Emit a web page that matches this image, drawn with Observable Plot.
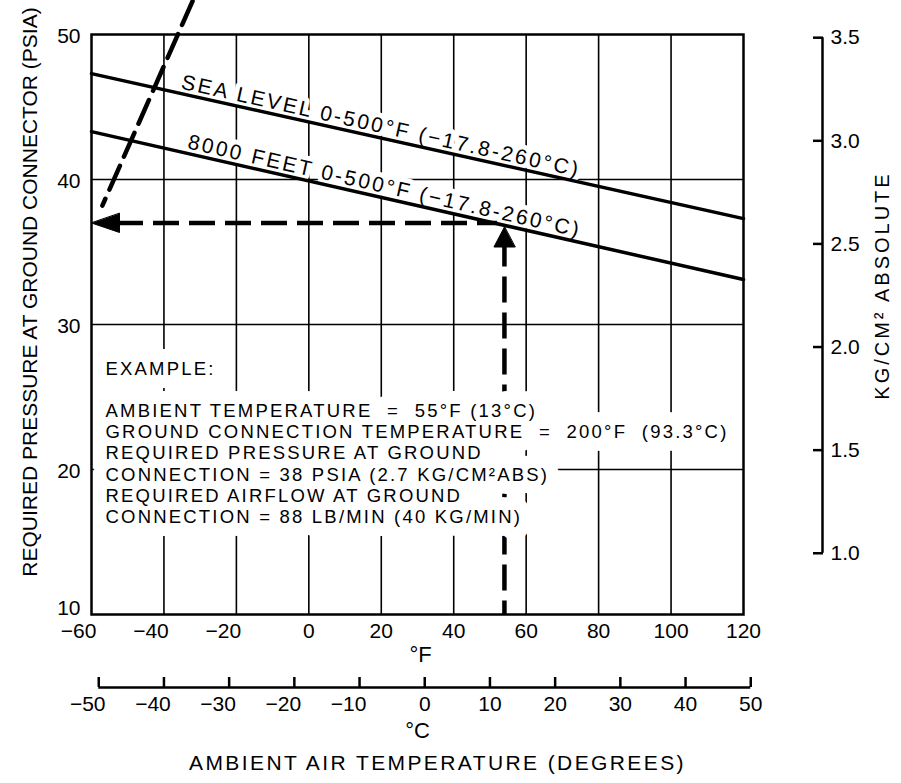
<!DOCTYPE html>
<html>
<head>
<meta charset="utf-8">
<script src="https://cdn.jsdelivr.net/npm/d3@7"></script>
<script src="https://cdn.jsdelivr.net/npm/@observablehq/plot@0.6"></script>
<style>
  html, body { margin: 0; padding: 0; background: #fff; }
  #chart svg { display: block; }
</style>
</head>
<body>
<div id="chart"></div>
<script>
// ---------- data ----------
const fTicks = [-60, -40, -20, 0, 20, 40, 60, 80, 100, 120];
const cTicks = [-50, -40, -30, -20, -10, 0, 10, 20, 30, 40, 50];
const psiTicks = [10, 20, 30, 40, 50];
const psiGrid = [20, 30, 40];
const kgTicks = [1.0, 1.5, 2.0, 2.5, 3.0, 3.5];

const seriesNames = ["SEA LEVEL", "8000 FEET"];
const seriesLabels = ["SEA LEVEL 0-500°F (\u221217.8-260°C)", "8000 FEET 0-500°F (\u221217.8-260°C)"];
const lineTemps = [-60, 120];
const seaLevelPsi = [47.3, 37.3];
const feet8000Psi = [43.3, 33.1];
const labelTemps = [19.5, 20.5];

const exampleTempF = 54;
const examplePsi = 37.0;
const diagTemps = [-32.1, -57.0];
const diagPsi = [52.3, 38.2];

const exampleLines = [
  "EXAMPLE:",
  "",
  "AMBIENT TEMPERATURE  =  55°F (13°C)",
  "GROUND CONNECTION TEMPERATURE  =  200°F  (93.3°C)",
  "REQUIRED PRESSURE AT GROUND",
  "CONNECTION = 38 PSIA (2.7 KG/CM²ABS)",
  "REQUIRED AIRFLOW AT GROUND",
  "CONNECTION = 88 LB/MIN (40 KG/MIN)"
];

const leftTitle = "REQUIRED PRESSURE AT GROUND CONNECTOR (PSIA)";
const rightTitle = "KG/CM² ABSOLUTE";
const fUnit = "°F";
const cUnit = "°C";
const xTitle = "AMBIENT AIR TEMPERATURE (DEGREES)";

// ---------- layout ----------
const W = 901, H = 783, ML = 91, MR = 158, MT = 34, MB = 169;
const plotW = W - ML - MR, plotH = H - MT - MB;
const pxPerF = plotW / (fTicks[fTicks.length - 1] - fTicks[0]);
const pxPerPsi = plotH / (psiTicks[psiTicks.length - 1] - psiTicks[0]);
const centerX = (ML + W - MR) / 2, centerY = (MT + H - MB) / 2;
const rightAxisX = 822, cAxisY = 687;
const FONT = "Liberation Sans, Arial, Helvetica, sans-serif";

const K = 14.223; // psi per kg/cm²
const cToF = c => c * 1.8 + 32;
const fmt = d => d < 0 ? "\u2212" + (-d) : String(d);

const psiSeries = [seaLevelPsi, feet8000Psi];
const lineData = seriesNames.flatMap((name, i) =>
  lineTemps.map((t, j) => ({name, t, p: psiSeries[i][j]})));
const labelData = seriesNames.map((name, i) => {
  const ps = psiSeries[i], t = labelTemps[i];
  const p = ps[0] + (ps[1] - ps[0]) * (t - lineTemps[0]) / (lineTemps[1] - lineTemps[0]);
  const angle = Math.atan2((ps[0] - ps[1]) * pxPerPsi, (lineTemps[1] - lineTemps[0]) * pxPerF) * 180 / Math.PI;
  return {t, p, text: seriesLabels[i], angle};
});
const diagData = diagTemps.map((t, i) => ({t, p: diagPsi[i]}));

const head = hw => ({
  draw(ctx, l) { ctx.moveTo(0, 0); ctx.lineTo(-hw, l); ctx.lineTo(hw, l); ctx.closePath(); }
});

const dash = {stroke: "black", strokeWidth: 4.5, strokeDasharray: "26,10"};
const gridStyle = {stroke: "black", strokeOpacity: 1, strokeWidth: 1.6};

const exampleOpts = {
  text: d => d, frameAnchor: "left", textAnchor: "start", lineAnchor: "top",
  dx: 14, dy: 35, fontSize: 18.5, lineHeight: 1.146
};
const labelOpts = {x: "t", y: "p", text: "text", rotate: "angle", lineAnchor: "bottom", dy: -5, fontSize: 21};
const psiFmt = d => String(d);

const chart = Plot.plot({
  width: W, height: H,
  marginLeft: ML, marginRight: MR, marginTop: MT, marginBottom: MB,
  style: {fontFamily: FONT, background: "white", color: "black"},
  x: {domain: [fTicks[0], fTicks[fTicks.length - 1]]},
  y: {domain: [psiTicks[0], psiTicks[psiTicks.length - 1]]},
  marks: [
    Plot.gridX(fTicks.slice(1, -1), gridStyle),
    Plot.gridY(psiGrid, gridStyle),
    // dashed example path
    Plot.ruleX([exampleTempF], {y1: () => examplePsi, y2: () => psiTicks[0], insetTop: 18, ...dash}),
    Plot.ruleY([examplePsi], {x1: () => fTicks[0], x2: () => exampleTempF, insetLeft: 26, insetRight: 6, ...dash}),
    Plot.line(diagData, {x: "t", y: "p", ...dash}),
    // example text box: halo pass, then text pass
    Plot.text([exampleLines.join("\n")], {...exampleOpts, fill: "white", stroke: "white", strokeWidth: 26, strokeLinejoin: "round", ariaDescription: "spaced-example"}),
    Plot.text([exampleLines.join("\n")], {...exampleOpts, fill: "black", ariaDescription: "spaced-example"}),
    // line labels: halo, then text
    Plot.text(labelData, {...labelOpts, fill: "white", stroke: "white", strokeWidth: 10, strokeLinejoin: "round", ariaDescription: "spaced-label"}),
    Plot.text(labelData, {...labelOpts, fill: "black", ariaDescription: "spaced-label"}),
    // pressure curves
    Plot.line(lineData, {x: "t", y: "p", z: "name", stroke: "black", strokeWidth: 3.5}),
    // arrowheads
    Plot.vector([{t: fTicks[0], p: examplePsi}], {
      x: "t", y: "p", rotate: -90, length: 28, anchor: "start", shape: head(9.5),
      fill: "black", stroke: "black", strokeWidth: 1
    }),
    Plot.vector([{t: exampleTempF, p: examplePsi}], {
      x: "t", y: "p", rotate: 0, length: 20, anchor: "start", shape: head(10.5), dy: 4,
      fill: "black", stroke: "black", strokeWidth: 1
    }),
    Plot.frame({stroke: "black", strokeWidth: 2.5}),
    // left psi axis (the bottom label sits a little higher, as printed)
    Plot.axisY(psiTicks.filter(d => d > psiTicks[0]), {anchor: "left", tickSize: 0, tickPadding: 11, dy: 2, fontSize: 21, tickFormat: psiFmt, label: null}),
    Plot.axisY([psiTicks[0]], {anchor: "left", tickSize: 0, tickPadding: 11, dy: -6, fontSize: 21, tickFormat: psiFmt, label: null}),
    // bottom °F axis
    Plot.axisX(fTicks.filter(d => d < 0), {anchor: "bottom", tickSize: 0, tickPadding: 9, dx: -13, fontSize: 21, tickFormat: fmt, label: null}),
    Plot.axisX(fTicks.filter(d => d >= 0), {anchor: "bottom", tickSize: 0, tickPadding: 9, fontSize: 21, tickFormat: fmt, label: null}),
    // °C axis
    Plot.ruleY([0], {y: null, x1: () => cToF(cTicks[0]), x2: () => cToF(cTicks[cTicks.length - 1]), dy: cAxisY - centerY, stroke: "black", strokeWidth: 2.5}),
    Plot.axisX(cTicks.map(cToF), {anchor: "bottom", dy: cAxisY - (H - MB), tickSize: -10, fill: "none", strokeWidth: 2.5, label: null}),
    Plot.axisX(cTicks.filter(c => c < 0).map(cToF), {anchor: "bottom", dy: cAxisY - (H - MB), dx: -11, tickSize: 0, tickPadding: 9, stroke: "none", fontSize: 21, tickFormat: f => fmt(Math.round((f - 32) / 1.8)), label: null}),
    Plot.axisX(cTicks.filter(c => c >= 0).map(cToF), {anchor: "bottom", dy: cAxisY - (H - MB), tickSize: 0, tickPadding: 9, stroke: "none", fontSize: 21, tickFormat: f => fmt(Math.round((f - 32) / 1.8)), label: null}),
    // right kg/cm² axis
    Plot.ruleX([0], {x: null, y1: () => kgTicks[0] * K, y2: () => kgTicks[kgTicks.length - 1] * K, dx: rightAxisX - centerX, stroke: "black", strokeWidth: 2.5}),
    Plot.axisY(kgTicks.map(k => k * K), {anchor: "right", dx: rightAxisX - (W - MR), tickSize: -10, tickPadding: 18, strokeWidth: 2.5, fontSize: 21, tickFormat: d => (d / K).toFixed(1), label: null}),
    // titles
    Plot.text([leftTitle], {text: d => d, frameAnchor: "left", textAnchor: "middle", rotate: -90, dx: 29.5 - ML, dy: 291.5 - centerY, fontSize: 21, fill: "black"}),
    Plot.text([rightTitle], {text: d => d, frameAnchor: "right", textAnchor: "middle", rotate: -90, dx: 882 - (W - MR), dy: 285 - centerY, fontSize: 20, fill: "black", ariaDescription: "spaced-kg"}),
    Plot.text([fUnit], {text: d => d, frameAnchor: "bottom", dx: 3, dy: 47, fontSize: 22, fill: "black"}),
    Plot.text([cUnit], {text: d => d, frameAnchor: "bottom", dx: 0, dy: 123, fontSize: 22, fill: "black"}),
    Plot.text([xTitle], {text: d => d, frameAnchor: "bottom", textAnchor: "middle", dx: 20, dy: 155.5, fontSize: 21, fill: "black", ariaDescription: "spaced-xtitle"})
  ]
});

// letter-spacing (not a Plot option): applied to the marks tagged above
const spacing = {"spaced-example": "2.2px", "spaced-label": "2.5px", "spaced-kg": "3px", "spaced-xtitle": "2.4px"};
chart.querySelectorAll("g[aria-description]").forEach(g => {
  const ls = spacing[g.getAttribute("aria-description")];
  if (ls) g.querySelectorAll("text").forEach(t => t.style.letterSpacing = ls);
});
document.getElementById("chart").appendChild(chart);
</script>
</body>
</html>
